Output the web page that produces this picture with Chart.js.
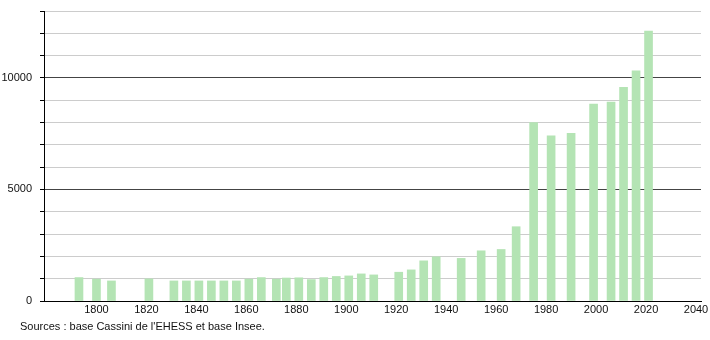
<!DOCTYPE html>
<html>
<head>
<meta charset="utf-8">
<script src="https://cdn.jsdelivr.net/npm/chart.js@4"></script>
<style>
    body { margin: 0; background: #fff; }
    .wrap { position: relative; width: 710px; height: 340px; }
    .source {
        position: absolute; left: 20px; top: 320px;
        font: 11px "Liberation Sans", Arial, sans-serif; color: #111;
    }
</style>
</head>
<body>
<div class="wrap">
    <canvas id="popChart" width="710" height="340"></canvas>
    <div class="source">Sources : base Cassini de l'EHESS et base Insee.</div>
</div>
<script>
// ─── Data ───
const years = [1793, 1800, 1806, 1821, 1831, 1836, 1841, 1846, 1851, 1856, 1861, 1866,
    1872, 1876, 1881, 1886, 1891, 1896, 1901, 1906, 1911, 1921, 1926, 1931, 1936,
    1946, 1954, 1962, 1968, 1975, 1982, 1990, 1999, 2006, 2011, 2016, 2021];
const population = [1050, 980, 900, 990, 900, 900, 900, 900, 900, 900, 980, 1050,
    980, 1030, 1040, 960, 1050, 1100, 1125, 1215, 1170, 1290, 1395, 1800, 1980,
    1910, 2250, 2310, 3330, 8000, 7400, 7520, 8830, 8920, 9580, 10315, 12100];
const xTickLabels = [1800, 1820, 1840, 1860, 1880, 1900, 1920, 1940, 1960, 1980, 2000, 2020, 2040];
const yTickLabels = [0, 5000, 10000];

const font = { family: "'Liberation Sans', Arial, sans-serif", size: 11 };

new Chart(document.getElementById('popChart'), {
    type: 'bar',
    data: {
        datasets: [{
            data: years.map((y, i) => ({ x: y, y: population[i] })),
            backgroundColor: '#b4e4b4',
            borderWidth: 0,
            barThickness: 8
        }]
    },
    options: {
        responsive: false,
        animation: false,
        layout: { padding: { top: 11, right: 9, left: 0, bottom: 0 } },
        plugins: { legend: { display: false }, tooltip: { enabled: false } },
        scales: {
            x: {
                type: 'linear',
                bounds: 'data',
                offset: false,
                min: 1779,
                max: 2042,
                afterBuildTicks: s => { s.ticks = xTickLabels.map(v => ({ value: v })); },
                afterFit: s => { s.height = 39; s.paddingLeft = 0; s.paddingRight = 0; },
                ticks: {
                    font, color: '#111', padding: 2, maxRotation: 0, autoSkip: false,
                    callback: v => String(v)
                },
                grid: { display: false, drawTicks: false, offset: false },
                border: { color: '#000', width: 1 }
            },
            y: {
                min: 0,
                max: 13000,
                ticks: {
                    stepSize: 1000,
                    font, color: '#111', padding: 8,
                    callback: v => yTickLabels.includes(v) ? String(v) : ''
                },
                afterFit: s => { s.width = 44; s.paddingTop = 0; s.paddingBottom = 0; },
                grid: {
                    color: c => c.tick && c.tick.value % 5000 === 0 && c.tick.value > 0 ? '#444' : '#ccc',
                    tickColor: '#000',
                    tickLength: 4,
                    lineWidth: 1
                },
                border: { color: '#000', width: 1 }
            }
        }
    }
});
</script>
</body>
</html>
